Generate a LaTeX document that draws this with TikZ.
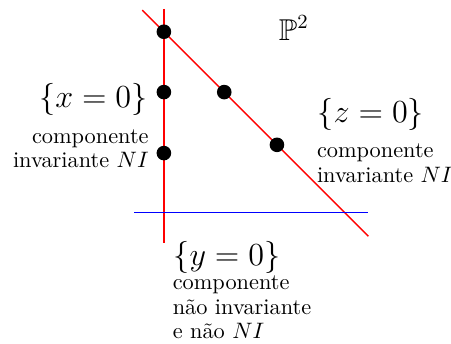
\documentclass[tikz,border=0pt]{standalone}
\usepackage{amsmath}
\usepackage{amssymb}

\begin{document}
\begin{tikzpicture}[line width=0.6pt,
  ptdot/.style={circle,fill=black,inner sep=0pt,minimum size=0.23cm},
  biglab/.style={inner sep=0pt,font=\fontsize{13.5}{16}\selectfont},
  smalllab/.style={inner sep=0pt,font=\fontsize{10}{11}\selectfont}]
\useasboundingbox (0,0) rectangle (7.10,5.40);
% ================= lines =================
\coordinate (xtop) at (2.58,5.26);
\coordinate (xbot) at (2.58,1.57);
\coordinate (ztop) at (2.24,5.24);
\coordinate (zbot) at (5.80,1.68);
\coordinate (yleft) at (2.11,2.05);
\coordinate (yright) at (5.80,2.05);
\draw[red] (xtop) -- (xbot);
\draw[red] (ztop) -- (zbot);
\draw[blue,line width=0.5pt] (yleft) -- (yright);
% ================= points =================
\node[ptdot] (p0) at (2.58,4.90) {};
\node[ptdot] (p1) at (2.58,3.95) {};
\node[ptdot] (p2) at (2.58,2.99) {};
\node[ptdot] (q1) at (3.53,3.95) {};
\node[ptdot] (q2) at (4.36,3.12) {};
% ================= labels =================
\node[biglab,anchor=base west] (pp) at (4.38,4.77) {$\mathbb{P}^2$};
\node[biglab,anchor=east] (xeq) at (2.33,3.84) {$\{x=0\}$};
\node[smalllab,anchor=north east,align=right] (xtxt) at (2.35,3.37) {componente\\invariante $NI$};
\node[biglab,anchor=west] (zeq) at (4.99,3.60) {$\{z=0\}$};
\node[smalllab,anchor=north west,align=left] (ztxt) at (4.98,3.14) {componente\\invariante $NI$};
\node[biglab,anchor=west] (yeq) at (2.72,1.35) {$\{y=0\}$};
\node[smalllab,anchor=north west,align=left] (ytxt) at (2.71,1.07) {componente\\não invariante\\e não $NI$};
\end{tikzpicture}
\end{document}
